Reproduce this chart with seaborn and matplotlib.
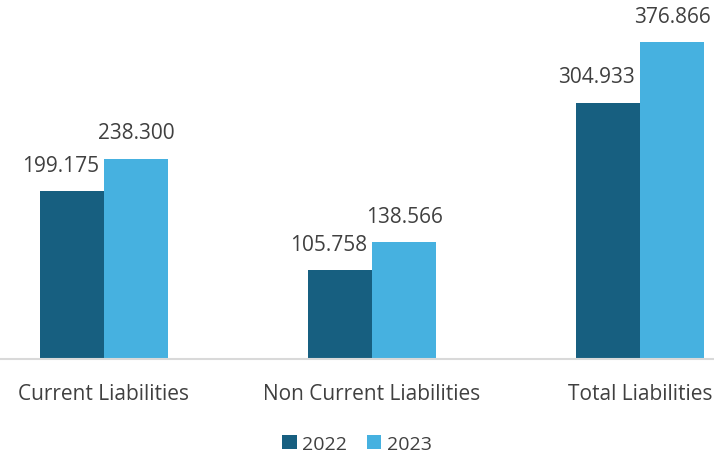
import matplotlib
matplotlib.use("Agg")
import matplotlib.pyplot as plt
import seaborn as sns
import pandas as pd

categories = ["Current Liabilities", "Non Current Liabilities", "Total Liabilities"]
years = ["2022", "2023"]
values_2022 = [199.175, 105.758, 304.933]
values_2023 = [238.300, 138.566, 376.866]

df = pd.DataFrame({
    "category": categories * 2,
    "year": [years[0]] * 3 + [years[1]] * 3,
    "value": values_2022 + values_2023,
})

sns.set_theme(style="white")
plt.rcParams["font.family"] = ["Open Sans", "DejaVu Sans"]

text_color = "#404040"
palette = {"2022": "#175f80", "2023": "#46b1e0"}

fig = plt.figure(figsize=(7.14, 4.56), dpi=100)
ax = fig.add_axes([0, 96 / 456, 1, 360 / 456])

sns.barplot(data=df, x="category", y="value", hue="year", palette=palette,
            width=0.478, gap=0, saturation=1, linewidth=0, ax=ax, legend=True)

# value labels above each bar; the 2022 labels sit slightly to the left
x_shift = {0: -8, 1: 0}
for i, (container, vals) in enumerate(zip(ax.containers, [values_2022, values_2023])):
    for patch, v in zip(container.patches, vals):
        cx = patch.get_x() + patch.get_width() / 2
        ax.annotate(f"{v:.3f}", xy=(cx, v), xytext=(x_shift[i], 11),
                    textcoords="offset points", ha="center", va="bottom",
                    fontsize=15, color=text_color)

ax.set_xlim(-104 / 268, 610 / 268)
ax.set_ylim(0, 428)
ax.set_xlabel("")
ax.set_ylabel("")
ax.set_yticks([])
ax.tick_params(axis="x", length=0, pad=17, labelsize=15, labelcolor=text_color)
for side in ["top", "left", "right"]:
    ax.spines[side].set_visible(False)
ax.spines["bottom"].set_color("#d9d9d9")
ax.spines["bottom"].set_linewidth(1.5)

handles, labels = ax.get_legend_handles_labels()
ax.legend(handles, labels, loc="center", bbox_to_anchor=(0.5, -0.235),
          ncol=2, frameon=False, fontsize=14, labelcolor=text_color,
          handlelength=0.75, handleheight=0.75, handletextpad=0.3, columnspacing=1.0)

fig.savefig("out.png", dpi=100)
